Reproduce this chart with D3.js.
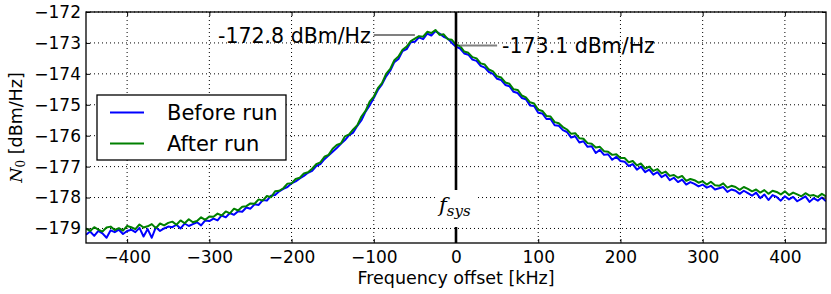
<!DOCTYPE html>
<html>
<head>
<meta charset="utf-8">
<script src="https://cdn.jsdelivr.net/npm/d3@7"></script>
<style>
html,body{margin:0;padding:0;background:#fff;}
svg{display:block;}
text{font-family:"DejaVu Sans",sans-serif;}
</style>
</head>
<body>
<svg id="chart" width="831" height="294"></svg>
<script>
// ---- data ----
const freqStart = -450, freqStep = 5, freqEnd = 450; // kHz sample grid
const afterRun = [
-179.00,-179.08,-178.96,-179.04,-179.10,-178.97,-178.94,-179.05,-178.99,-179.07,-178.92,
-178.96,-179.02,-178.87,-178.97,-178.93,-178.86,-178.99,-178.84,-178.90,-178.82,
-178.78,-178.88,-178.74,-178.83,-178.70,-178.80,-178.76,-178.64,-178.72,-178.61,
-178.62,-178.52,-178.58,-178.45,-178.51,-178.36,-178.42,-178.30,-178.28,-178.19,
-178.20,-178.06,-178.10,-177.95,-177.99,-177.80,-177.78,-177.70,-177.55,-177.54,
-177.40,-177.36,-177.22,-177.18,-177.07,-176.92,-176.86,-176.68,-176.62,-176.42,
-176.30,-176.25,-176.02,-175.96,-175.80,-175.66,-175.38,-175.20,-174.90,-174.74,
-174.46,-174.30,-174.00,-173.84,-173.56,-173.44,-173.22,-173.12,-172.94,-172.86,
-172.78,-172.80,-172.64,-172.68,-172.58,-172.74,-172.72,-172.88,-172.90,-173.06,
-173.10,-173.28,-173.32,-173.46,-173.50,-173.66,-173.70,-173.86,-173.92,-174.08,
-174.12,-174.28,-174.32,-174.50,-174.52,-174.70,-174.76,-174.92,-174.96,-175.16,
-175.20,-175.36,-175.38,-175.56,-175.60,-175.72,-175.80,-175.94,-175.92,-176.08,
-176.10,-176.24,-176.26,-176.38,-176.36,-176.50,-176.52,-176.62,-176.60,-176.72,
-176.72,-176.86,-176.82,-176.96,-176.90,-177.06,-177.00,-177.14,-177.08,-177.22,
-177.16,-177.30,-177.27,-177.36,-177.30,-177.46,-177.40,-177.44,-177.52,-177.47,
-177.58,-177.49,-177.60,-177.62,-177.54,-177.68,-177.62,-177.66,-177.75,-177.66,
-177.72,-177.80,-177.74,-177.84,-177.76,-177.88,-177.78,-177.82,-177.90,-177.80,
-177.92,-177.84,-177.90,-177.96,-177.86,-177.94,-177.92,-177.98,-177.88,-177.96];
const beforeRun = [
-179.20,-179.10,-179.24,-179.08,-179.16,-179.30,-179.06,-179.12,-179.04,-179.18,-179.08,
-179.04,-179.12,-178.98,-179.26,-179.02,-179.30,-178.96,-179.08,-179.00,-178.94,
-178.96,-178.88,-179.00,-178.84,-178.92,-178.86,-178.80,-178.90,-178.74,-178.76,
-178.68,-178.74,-178.58,-178.64,-178.50,-178.56,-178.44,-178.46,-178.32,-178.36,
-178.22,-178.24,-178.08,-178.10,-177.94,-177.92,-177.80,-177.72,-177.66,-177.54,
-177.48,-177.38,-177.30,-177.20,-177.14,-176.98,-176.92,-176.76,-176.64,-176.52,
-176.40,-176.26,-176.14,-175.98,-175.90,-175.68,-175.50,-175.22,-175.02,-174.78,
-174.52,-174.34,-174.08,-173.90,-173.62,-173.52,-173.26,-173.20,-172.98,-172.96,
-172.82,-172.88,-172.70,-172.76,-172.62,-172.70,-172.80,-172.86,-173.00,-173.12,
-173.18,-173.34,-173.38,-173.54,-173.58,-173.74,-173.80,-173.94,-174.00,-174.16,
-174.20,-174.36,-174.40,-174.58,-174.62,-174.78,-174.82,-175.02,-175.04,-175.26,
-175.28,-175.46,-175.46,-175.66,-175.68,-175.82,-175.88,-176.06,-176.02,-176.22,
-176.18,-176.36,-176.34,-176.56,-176.46,-176.62,-176.60,-176.78,-176.68,-176.82,
-176.84,-176.98,-176.92,-177.10,-177.00,-177.18,-177.10,-177.26,-177.18,-177.34,
-177.26,-177.44,-177.36,-177.50,-177.42,-177.58,-177.50,-177.56,-177.64,-177.58,
-177.68,-177.62,-177.74,-177.70,-177.66,-177.82,-177.74,-177.78,-177.88,-177.78,
-177.86,-177.94,-177.84,-178.02,-177.90,-178.08,-177.92,-177.98,-178.10,-177.96,
-178.06,-177.98,-178.12,-178.04,-177.96,-178.14,-178.02,-178.10,-178.00,-178.12];
const xTicks = [-400,-300,-200,-100,0,100,200,300,400];
const yTicks = [-179,-178,-177,-176,-175,-174,-173,-172];
const seriesNames = ["Before run","After run"];
const peakLabel = {text:"-172.8 dBm/Hz", y:-172.74, x0:-100, x1:-50};
const sysLabel  = {text:"-173.1 dBm/Hz", y:-173.08, x0:5, x1:50};
const fsysAt = 0;

// ---- layout ----
const M = {l:86, r:826, t:12, b:243};
const svg = d3.select("#chart");
const x = d3.scaleLinear().domain([-450,450]).range([M.l,M.r]);
const y = d3.scaleLinear().domain([-179.47,-172]).range([M.b,M.t]);
const freqs = d3.range(freqStart, freqEnd + freqStep/2, freqStep);

// grid
const grid = svg.append("g");
grid.selectAll(".gx").data(xTicks).enter().append("line")
  .attr("x1",d=>x(d)).attr("x2",d=>x(d)).attr("y1",M.t).attr("y2",M.b)
  .attr("stroke","#000").attr("stroke-width",1).attr("stroke-dasharray","1,3");
grid.selectAll(".gy").data(yTicks).enter().append("line")
  .attr("x1",M.l).attr("x2",M.r).attr("y1",d=>y(d)).attr("y2",d=>y(d))
  .attr("stroke","#000").attr("stroke-width",1).attr("stroke-dasharray","1,3");

// series
const line = d3.line().x((d,i)=>x(freqs[i])).y(d=>y(d));
svg.append("clipPath").attr("id","clip").append("rect")
  .attr("x",M.l).attr("y",M.t).attr("width",M.r-M.l).attr("height",M.b-M.t);
svg.append("path").datum(beforeRun).attr("d",line).attr("fill","none")
  .attr("stroke","#0000ff").attr("stroke-width",2).attr("stroke-linejoin","round").attr("clip-path","url(#clip)");
svg.append("path").datum(afterRun).attr("d",line).attr("fill","none")
  .attr("stroke","#008000").attr("stroke-width",2).attr("stroke-linejoin","round").attr("clip-path","url(#clip)");

// f_sys vertical line
svg.append("line").attr("x1",x(fsysAt)).attr("x2",x(fsysAt)).attr("y1",M.t).attr("y2",M.b)
  .attr("stroke","#000").attr("stroke-width",2.6);
svg.append("rect").attr("x",x(fsysAt)-21).attr("y",190).attr("width",43).attr("height",37).attr("fill","#fff");
const fs = svg.append("text").attr("x",x(fsysAt)-17).attr("y",212)
  .style("font-family","'DejaVu Serif',serif").style("font-style","italic");
fs.append("tspan").text("f").style("font-size","21px");
fs.append("tspan").text("sys").style("font-size","15px").attr("dy",4);

// annotations
svg.append("line").attr("x1",x(peakLabel.x0)).attr("x2",x(peakLabel.x1))
  .attr("y1",y(peakLabel.y)).attr("y2",y(peakLabel.y)).attr("stroke","#808080").attr("stroke-width",2);
svg.append("text").attr("x",x(peakLabel.x0)-3).attr("y",42.7).attr("text-anchor","end")
  .style("font-size","20.5px").text(peakLabel.text);
svg.append("line").attr("x1",x(sysLabel.x0)).attr("x2",x(sysLabel.x1))
  .attr("y1",y(sysLabel.y)).attr("y2",y(sysLabel.y)).attr("stroke","#808080").attr("stroke-width",2);
svg.append("text").attr("x",x(sysLabel.x1)+5).attr("y",53).attr("text-anchor","start")
  .style("font-size","20.5px").text(sysLabel.text);

// axes
function styleAxis(g, hideText){
  g.select(".domain").remove();
  g.selectAll(".tick line").attr("stroke","#000").attr("stroke-width",1);
  g.selectAll(".tick text").style("font-size","17px").style("font-family","'DejaVu Sans',sans-serif").attr("fill","#000");
  if(hideText) g.selectAll(".tick text").remove();
}
svg.append("g").attr("transform",`translate(0,${M.b})`)
  .call(d3.axisBottom(x).tickValues(xTicks).tickSize(-4).tickPadding(8))
  .call(g=>styleAxis(g,false));
svg.append("g").attr("transform",`translate(0,${M.t})`)
  .call(d3.axisTop(x).tickValues(xTicks).tickSize(-4))
  .call(g=>styleAxis(g,true));
svg.append("g").attr("transform",`translate(${M.l},0)`)
  .call(d3.axisLeft(y).tickValues(yTicks).tickSize(-4).tickPadding(5))
  .call(g=>styleAxis(g,false));
svg.append("g").attr("transform",`translate(${M.r},0)`)
  .call(d3.axisRight(y).tickValues(yTicks).tickSize(-4))
  .call(g=>styleAxis(g,true));

// frame
svg.append("rect").attr("x",M.l).attr("y",M.t).attr("width",M.r-M.l).attr("height",M.b-M.t)
  .attr("fill","none").attr("stroke","#000").attr("stroke-width",1.3);

// axis labels
svg.append("text").attr("x",(M.l+M.r)/2).attr("y",284).attr("text-anchor","middle")
  .style("font-size","17.5px").text("Frequency offset [kHz]");
const yl = svg.append("text").attr("transform",`translate(22,${(M.t+M.b)/2}) rotate(-90)`)
  .attr("text-anchor","middle").style("font-size","17.5px");
yl.append("tspan").text("N").style("font-family","'DejaVu Serif',serif").style("font-style","italic");
yl.append("tspan").text("0").style("font-family","'DejaVu Serif',serif").style("font-size","12px").attr("dy",3);
yl.append("tspan").text(" [dBm/Hz]").attr("dy",-3);

// legend
const lg = svg.append("g");
lg.append("rect").attr("x",97).attr("y",95).attr("width",189).attr("height",65)
  .attr("fill","#fff").attr("stroke","#000").attr("stroke-width",1.3);
const colors = ["#0000ff","#008000"];
seriesNames.forEach((name,i)=>{
  const yy = 112.5 + i*31;
  lg.append("line").attr("x1",110).attr("x2",144).attr("y1",yy).attr("y2",yy)
    .attr("stroke",colors[i]).attr("stroke-width",2.2);
  lg.append("text").attr("x",167).attr("y",yy+7.5).style("font-size","21px").text(name);
});
</script>
</body>
</html>
